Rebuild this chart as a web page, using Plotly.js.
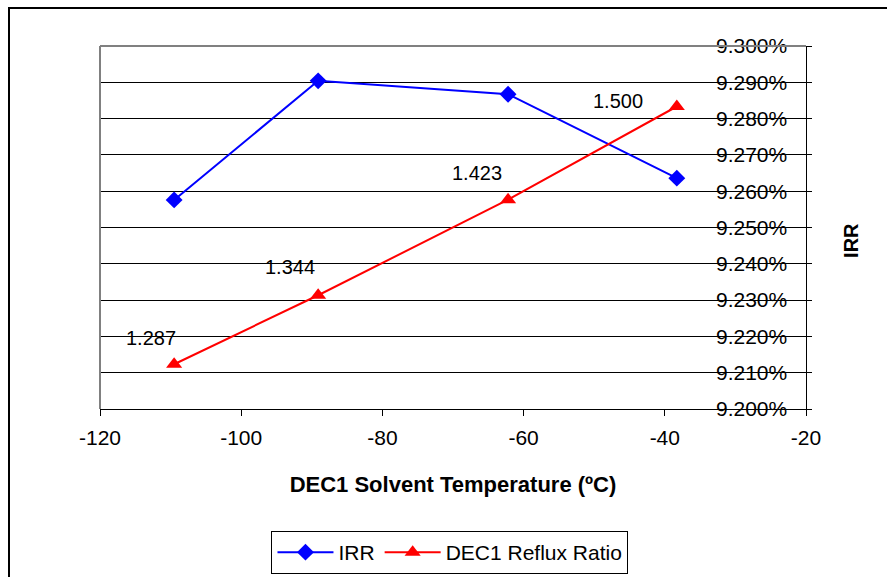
<!DOCTYPE html>
<html>
<head>
<meta charset="utf-8">
<script src="https://cdn.plot.ly/plotly-3.0.1.min.js"></script>
<style>
  html, body { margin: 0; padding: 0; background: #fff; }
  #wrap { position: relative; width: 887px; height: 577px; overflow: hidden; }
  #chart { position: absolute; left: 0; top: 0; width: 887px; height: 577px; }
  #frame { position: absolute; left: 8px; top: 7px; width: 900px; height: 600px;
           border-top: 2px solid #000; border-left: 2px solid #000; pointer-events: none; }
</style>
</head>
<body>
<div id="wrap">
  <div id="chart"></div>
  <div id="frame"></div>
</div>
<script>
// Solvent temperature (°C) for each case
const temperature = [-109.5, -89.1, -62.2, -38.3];
// Internal rate of return (fraction)
const irr = [0.092576, 0.092904, 0.092867, 0.092636];
// DEC1 reflux ratio
const refluxRatio = [1.287, 1.344, 1.423, 1.500];
const refluxLabels = ['1.287', '1.344', '1.423', '1.500'];
// Temperature axis ticks (plain hyphen minus signs)
const tempTicks = [-120, -100, -80, -60, -40, -20];
const tempTickText = ['-120', '-100', '-80', '-60', '-40', '-20'];
// Pixel offsets of each reflux label from its point
const labelDx = [-23, -28, -31, -59];
const labelDy = [-26, -28, -27, -6];

const FONT = '"Liberation Sans", Arial, sans-serif';

const traces = [
  {
    name: 'IRR',
    x: temperature,
    y: irr,
    yaxis: 'y',
    mode: 'lines+markers',
    line: { color: '#0000FF', width: 2 },
    marker: { symbol: 'diamond', size: 13, color: '#0000FF' }
  },
  {
    name: 'DEC1 Reflux Ratio',
    x: temperature,
    y: refluxRatio,
    yaxis: 'y2',
    mode: 'lines+markers',
    line: { color: '#FF0000', width: 2 },
    marker: { symbol: 'triangle-up', size: 14, color: '#FF0000' }
  }
];

const annotations = refluxRatio.map((v, i) => ({
  x: temperature[i], y: v, xref: 'x', yref: 'y2',
  text: refluxLabels[i], showarrow: false,
  xshift: labelDx[i], yshift: -labelDy[i],
  font: { family: FONT, size: 20, color: '#000' }
}));

// right-hand axis title
annotations.push({
  text: '<b>IRR</b>', xref: 'paper', yref: 'paper',
  x: 1.082, y: 0.4656, showarrow: false, textangle: -90,
  font: { family: FONT, size: 20, color: '#000' }
});

const layout = {
  width: 887, height: 577,
  margin: { l: 100, r: 81, t: 46, b: 168, autoexpand: false },
  paper_bgcolor: '#fff', plot_bgcolor: '#fff',
  font: { family: FONT, size: 21, color: '#000' },
  showlegend: true,
  xaxis: {
    range: [-120, -20], tickvals: tempTicks, ticktext: tempTickText,
    automargin: false,
    showgrid: false, zeroline: false,
    showline: true, linecolor: '#000', linewidth: 1,
    ticks: 'outside', ticklen: 6, tickcolor: '#000',
    ticklabelstandoff: 4,
    tickfont: { family: FONT, size: 21, color: '#000' },
    title: { text: '<b>DEC1 Solvent Temperature (ºC)</b>', standoff: 28,
             font: { family: FONT, size: 22, color: '#000' } }
  },
  yaxis: {
    side: 'right', automargin: false,
    range: [0.092, 0.093], dtick: 0.0001, tick0: 0.092,
    tickformat: '.3%',
    showgrid: true, gridcolor: '#000', gridwidth: 1,
    zeroline: false,
    showline: true, linecolor: '#000', linewidth: 1,
    ticks: 'outside', ticklen: 5, tickcolor: '#000',
    ticklabelposition: 'inside', ticklabeloverflow: 'allow',
    ticklabelstandoff: 20,
    tickfont: { family: FONT, size: 21, color: '#000' }
  },
  yaxis2: {
    overlaying: 'y', side: 'left', automargin: false,
    range: [1.25, 1.55], visible: false
  },
  shapes: [
    // grey plot-area border on the top and left edges
    { type: 'line', xref: 'paper', yref: 'paper', x0: 0, x1: 1, y0: 1, y1: 1,
      line: { color: '#808080', width: 2 } },
    { type: 'line', xref: 'paper', yref: 'paper', x0: 0, x1: 0, y0: 0, y1: 1,
      line: { color: '#808080', width: 2 } }
  ],
  legend: {
    orientation: 'h', xref: 'container', yref: 'container',
    x: 0.5073, xanchor: 'center', y: 0.0797, yanchor: 'top',
    bordercolor: '#000', borderwidth: 1, bgcolor: '#fff',
    itemwidth: 56,
    font: { family: FONT, size: 21, color: '#000' }
  },
  annotations: annotations
};

Plotly.newPlot('chart', traces, layout, { displayModeBar: false, staticPlot: true });
</script>
</body>
</html>
